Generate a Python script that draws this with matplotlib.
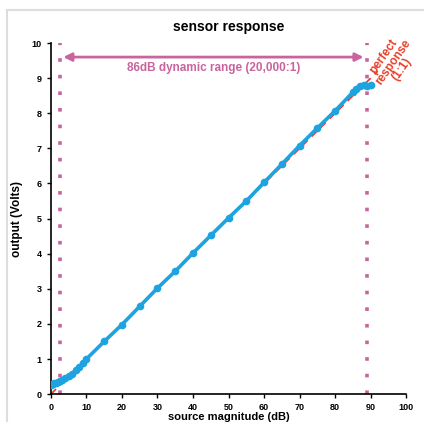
import matplotlib.pyplot as plt
from matplotlib.patches import Rectangle

plt.rcParams['font.family'] = ['Liberation Sans', 'DejaVu Sans']

# measured sensor output
source_db = [0, 0.5, 1, 1.5, 2, 2.5, 3, 4, 5, 6, 7, 8, 9, 10, 15, 20, 25, 30,
             35, 40, 45, 50, 55, 60, 65, 70, 75, 80, 85, 86, 87, 88, 89, 90]
output_v = [0.27, 0.29, 0.31, 0.33, 0.35, 0.37, 0.40, 0.45, 0.52, 0.58, 0.68,
            0.78, 0.88, 1.0, 1.5, 1.98, 2.5, 3.02, 3.5, 4.02, 4.52, 5.02, 5.5,
            6.03, 6.55, 7.08, 7.58, 8.07, 8.6, 8.7, 8.77, 8.8, 8.78, 8.8]

# ideal 1:1 response
ideal_db = [0, 92]
ideal_v = [0, 9.2]

# dynamic range limits
range_lo = 2.5
range_hi = 89

pink = '#c8649e'
red = '#e8402a'
blue = '#1ca3e0'

fig = plt.figure(figsize=(4.24, 4.22), dpi=100)
fig.patches.append(Rectangle((0.0165, -0.1), 1.2, 1.076, transform=fig.transFigure,
                             fill=False, edgecolor='#dddddd', linewidth=1.5))
ax = fig.add_axes([0.120, 0.066, 0.838, 0.832])

ax.plot(ideal_db, ideal_v, color=red, linestyle=(0, (4, 3)), linewidth=1.3, zorder=2)
ax.plot(source_db, output_v, color=blue, linewidth=2.6, marker='o', markersize=4.5,
        zorder=3)

ax.axvline(range_lo, color=pink, linestyle=(0, (1, 3.6)), linewidth=2.6, zorder=1)
ax.axvline(range_hi, color=pink, linestyle=(0, (1, 3.6)), linewidth=2.6, zorder=1)

ax.annotate('', xy=(range_lo + 1, 9.6), xytext=(range_hi - 1, 9.6),
            arrowprops=dict(arrowstyle='<|-|>', color=pink, lw=2,
                            mutation_scale=12, shrinkA=0, shrinkB=0))
ax.text((range_lo + range_hi) / 2, 9.28, '86dB dynamic range (20,000:1)',
        color=pink, fontsize=8.5, fontweight='bold', ha='center', va='center')

ax.text(96.3, 9.45, 'perfect\nresponse\n(1:1)', color=red, fontsize=8.5,
        fontweight='bold', ha='center', va='center', rotation=55,
        linespacing=0.9, clip_on=False)

ax.set_xlim(0, 100)
ax.set_ylim(0, 10)
ax.set_xticks(range(0, 101, 10))
ax.set_yticks(range(0, 11))
ax.tick_params(labelsize=6.5, length=3, width=1)
for lbl in ax.get_xticklabels() + ax.get_yticklabels():
    lbl.set_fontweight('bold')
ax.spines['top'].set_visible(False)
ax.spines['right'].set_visible(False)
ax.spines['left'].set_linewidth(1.2)
ax.spines['bottom'].set_linewidth(1.2)

ax.set_title('sensor response', fontsize=10, fontweight='bold', pad=9)
ax.set_xlabel('source magnitude (dB)', fontsize=8, fontweight='bold', labelpad=0)
ax.set_ylabel('output (Volts)', fontsize=8.5, fontweight='bold', labelpad=6)

fig.savefig('out.png', dpi=100)
